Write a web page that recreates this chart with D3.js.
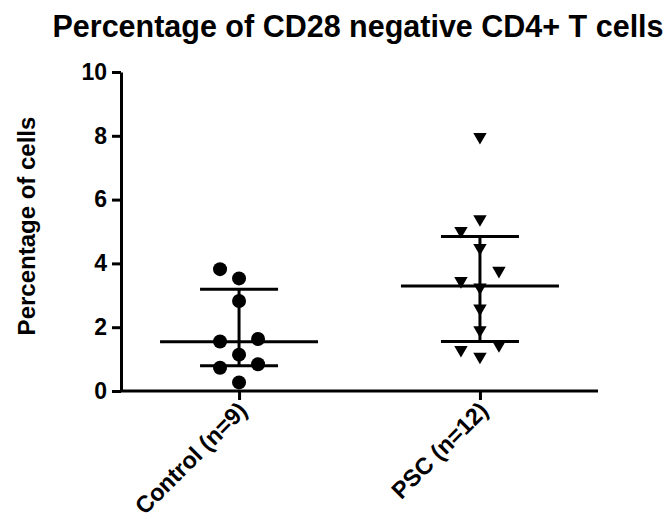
<!DOCTYPE html>
<html>
<head>
<meta charset="utf-8">
<script src="https://cdn.jsdelivr.net/npm/d3@7"></script>
<style>
  body { margin: 0; background: #fff; }
  svg { display: block; font-family: "Liberation Sans", Arial, sans-serif; }
  .axis path, .axis line { stroke: #000; stroke-width: 3; }
  .axis text { font-weight: bold; fill: #000; }
</style>
</head>
<body>
<svg id="chart" width="668" height="525"></svg>
<script>
var groups = ["Control (n=9)", "PSC (n=12)"];
var controlValues = [3.82, 3.53, 2.82, 1.55, 1.63, 1.14, 0.84, 0.73, 0.27];
var pscValues = [7.97, 5.39, 5.02, 4.49, 3.77, 3.45, 3.25, 2.59, 1.91, 1.44, 1.29, 1.08];
var medians = [1.54, 3.29];
var q1 = [0.79, 1.55];
var q3 = [3.19, 4.84];
var yTicks = [0, 2, 4, 6, 8, 10];

var svg = d3.select("svg#chart"),
    margin = {left: 121, right: 598, top: 72, bottom: 391};

var x = d3.scalePoint()
    .domain(groups)
    .range([margin.left, margin.right])
    .padding(0.49);

var y = d3.scaleLinear()
    .domain([0, 10])
    .range([margin.bottom, margin.top]);

// title
svg.append("text")
    .attr("x", 358)
    .attr("y", 37)
    .attr("text-anchor", "middle")
    .attr("font-size", 30.5)
    .attr("font-weight", "bold")
    .text("Percentage of CD28 negative CD4+ T cells");

// y label
svg.append("text")
    .attr("transform", "translate(35,226) rotate(-90)")
    .attr("text-anchor", "middle")
    .attr("font-size", 24)
    .attr("font-weight", "bold")
    .text("Percentage of cells");

// y axis
var yAxis = svg.append("g")
    .attr("class", "axis")
    .attr("transform", "translate(" + margin.left + ",0)")
    .call(d3.axisLeft(y).tickValues(yTicks).tickSize(9).tickSizeOuter(0).tickPadding(5));
yAxis.selectAll("text").attr("font-size", 23);

// x axis
var xAxis = svg.append("g")
    .attr("class", "axis")
    .attr("transform", "translate(0," + margin.bottom + ")")
    .call(d3.axisBottom(x).tickSize(9).tickSizeOuter(0));
xAxis.select(".domain").attr("d", "M" + margin.left + ",0H" + margin.right);
xAxis.selectAll("text")
    .attr("font-size", 23.5)
    .attr("text-anchor", "end")
    .attr("dy", null)
    .attr("y", null)
    .attr("transform", "translate(9,21) rotate(-45)");

// simple beeswarm so overlapping points spread sideways
function swarm(values) {
  var step = 19, minDist = 19;
  var sorted = values.slice().sort(function(a, b) { return a - b; });
  var placed = [];
  sorted.forEach(function(v) {
    var py = y(v);
    var cands = [0, -step, step, -2 * step, 2 * step];
    for (var i = 0; i < cands.length; i++) {
      var ok = placed.every(function(p) {
        var dx = p.dx - cands[i], dy = p.py - py;
        return Math.sqrt(dx * dx + dy * dy) >= minDist;
      });
      if (ok) { placed.push({v: v, py: py, dx: cands[i]}); return; }
    }
    placed.push({v: v, py: py, dx: 0});
  });
  return placed;
}

var plot = svg.append("g");

// median and interquartile range
groups.forEach(function(g, i) {
  var cx = x(g);
  plot.append("line")
      .attr("x1", cx).attr("x2", cx)
      .attr("y1", y(q3[i])).attr("y2", y(q1[i]))
      .attr("stroke", "#000").attr("stroke-width", 3);
  plot.append("line")
      .attr("x1", cx - 79).attr("x2", cx + 79)
      .attr("y1", y(medians[i])).attr("y2", y(medians[i]))
      .attr("stroke", "#000").attr("stroke-width", 3);
  [q1[i], q3[i]].forEach(function(q) {
    plot.append("line")
        .attr("x1", cx - 39).attr("x2", cx + 39)
        .attr("y1", y(q)).attr("y2", y(q))
        .attr("stroke", "#000").attr("stroke-width", 3);
  });
});

plot.selectAll("circle")
    .data(swarm(controlValues))
    .enter().append("circle")
    .attr("cx", function(d) { return x(groups[0]) + d.dx; })
    .attr("cy", function(d) { return d.py; })
    .attr("r", 7)
    .attr("fill", "#000");

var tri = d3.symbol().type(d3.symbolTriangle).size(78);
plot.selectAll("path.tri")
    .data(swarm(pscValues))
    .enter().append("path")
    .attr("class", "tri")
    .attr("d", tri)
    .attr("transform", function(d) {
      return "translate(" + (x(groups[1]) + d.dx) + "," + d.py + ") rotate(180)";
    })
    .attr("fill", "#000");
</script>
</body>
</html>
